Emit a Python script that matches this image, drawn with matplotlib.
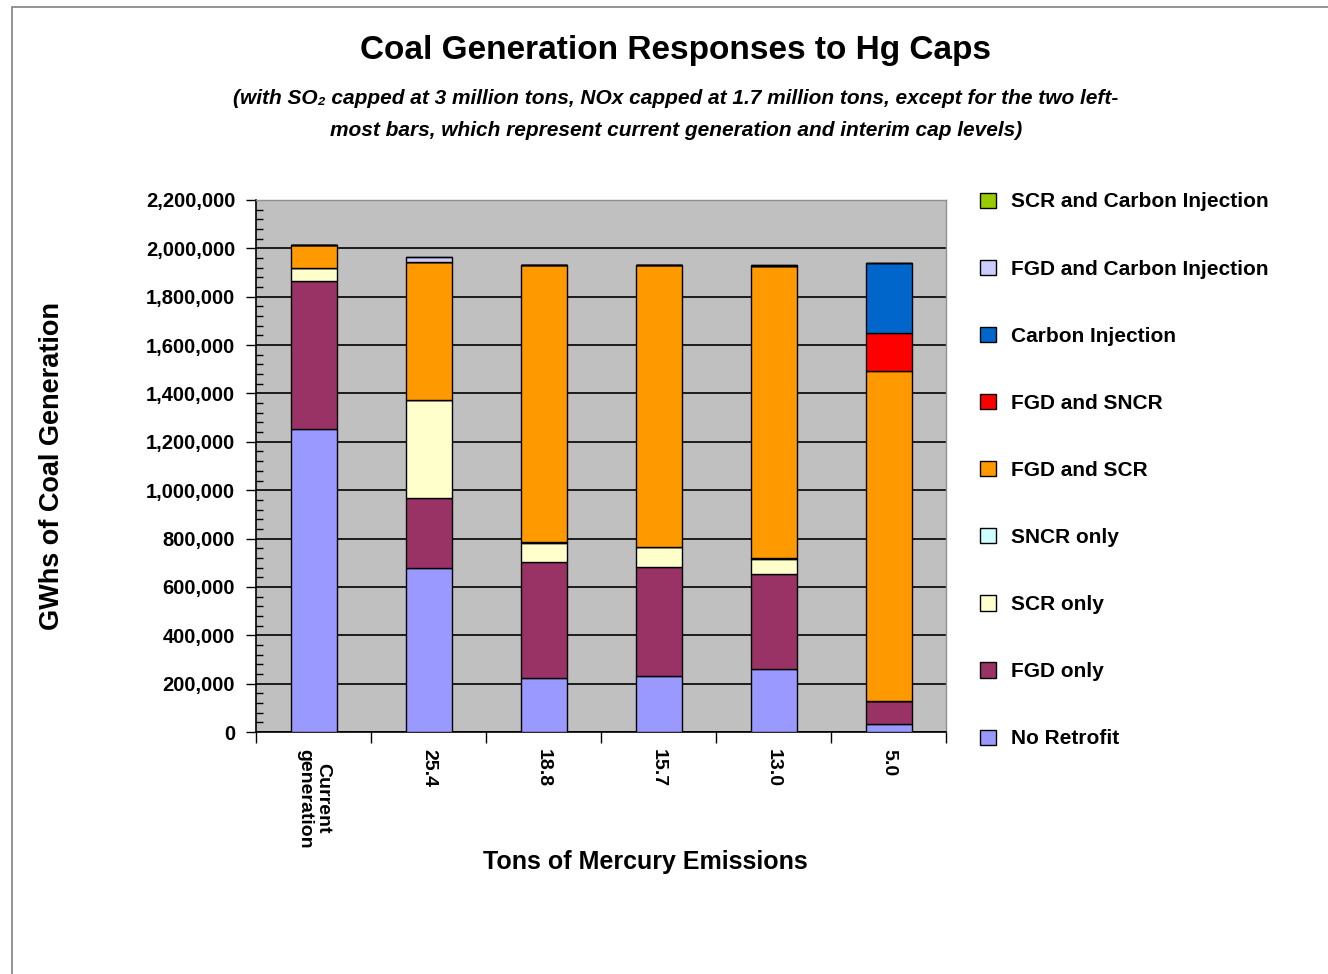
import matplotlib
matplotlib.use("Agg")
import matplotlib.pyplot as plt
from matplotlib.patches import Patch, Rectangle
from matplotlib.ticker import FuncFormatter, MultipleLocator
import numpy as np

plt.rcParams['font.family'] = ['Liberation Sans', 'DejaVu Sans']
plt.rcParams['font.weight'] = 'bold'

categories = ['Current\ngeneration', '25.4', '18.8', '15.7', '13.0', '5.0']

# GWh per retrofit type, bottom to top
no_retrofit = [1251000, 680000, 225000, 231000, 260000, 34000]
fgd_only = [613000, 287000, 480000, 450000, 395000, 93000]
scr_only = [55000, 405000, 78000, 85000, 59000, 0]
sncr_only = [0, 0, 4000, 0, 5000, 0]
fgd_scr = [96000, 572000, 1144000, 1165000, 1207000, 1366000]
fgd_sncr = [0, 0, 0, 0, 0, 158000]
carbon_inj = [0, 0, 0, 0, 0, 287000]
fgd_carbon = [0, 19000, 0, 0, 4000, 0]
scr_carbon = [0, 0, 0, 0, 0, 0]

series = [
    ('No Retrofit', no_retrofit, '#9999FF'),
    ('FGD only', fgd_only, '#993366'),
    ('SCR only', scr_only, '#FFFFCC'),
    ('SNCR only', sncr_only, '#CCFFFF'),
    ('FGD and SCR', fgd_scr, '#FF9900'),
    ('FGD and SNCR', fgd_sncr, '#FF0000'),
    ('Carbon Injection', carbon_inj, '#0066CC'),
    ('FGD and Carbon Injection', fgd_carbon, '#CCCCFF'),
    ('SCR and Carbon Injection', scr_carbon, '#99CC00'),
]

W, H = 1328, 974
fig = plt.figure(figsize=(W / 100, H / 100), dpi=100)
fig.patch.set_facecolor('white')

# chart area border (right/bottom run off the image)
fig.add_artist(Rectangle((12 / W, -0.05), 1.2, 1 - 7 / H + 0.05, transform=fig.transFigure,
                         fill=False, edgecolor='#808080', linewidth=1.2))

ax = fig.add_axes([256 / W, 1 - 732 / H, (946 - 256) / W, (732 - 200) / H])
ax.set_facecolor('#C0C0C0')

x = np.arange(len(categories))
bottom = np.zeros(len(categories))
handles = []
for name, vals, col in series:
    vals = np.array(vals, dtype=float)
    ax.bar(x, vals, 0.4, bottom=bottom, color=col, edgecolor='black', linewidth=1.0, zorder=3)
    bottom += vals
    handles.append(Patch(facecolor=col, edgecolor='black', linewidth=1.0, label=name))

ax.set_xlim(-0.5, len(categories) - 0.5)
ax.set_ylim(0, 2200000)
ax.yaxis.set_major_locator(MultipleLocator(200000))
ax.yaxis.set_minor_locator(MultipleLocator(40000))
ax.yaxis.set_major_formatter(FuncFormatter(lambda v, p: f'{int(v):,}'))
ax.grid(axis='y', which='major', color='black', linewidth=1.2, zorder=1)
ax.set_axisbelow(True)
ax.tick_params(axis='y', which='major', direction='out', length=7, width=1, labelsize=14.5, pad=8)
ax.tick_params(axis='y', which='minor', direction='in', length=5, width=1)

ax.set_xticks(np.arange(-0.5, len(categories), 1.0))
ax.set_xticklabels([])
ax.set_xticks(x, minor=True)
ax.set_xticklabels(categories, minor=True, rotation=270, fontsize=14,
                   ha='center', va='top', linespacing=1.1)
ax.tick_params(axis='x', which='major', direction='out', length=8, width=1)
ax.tick_params(axis='x', which='minor', length=0, pad=12)

for s in ['left', 'bottom']:
    ax.spines[s].set_color('black')
    ax.spines[s].set_linewidth(1.2)
for s in ['top', 'right']:
    ax.spines[s].set_color('#909090')
    ax.spines[s].set_linewidth(1.0)

fig.text(676 / W, 1 - 50 / H, 'Coal Generation Responses to Hg Caps',
         ha='center', va='center', fontsize=24, fontweight='bold')
fig.text(676 / W, 1 - 98 / H,
         '(with SO\u2082 capped at 3 million tons, NOx capped at 1.7 million tons, except for the two left-',
         ha='center', va='center', fontsize=15, fontweight='bold', style='italic')
fig.text(676 / W, 1 - 131 / H,
         'most bars, which represent current generation and interim cap levels)',
         ha='center', va='center', fontsize=15, fontweight='bold', style='italic')

fig.text(52 / W, 1 - 466 / H, 'GWhs of Coal Generation', rotation=90,
         ha='center', va='center', fontsize=19.5, fontweight='bold')
fig.text(645 / W, 1 - 862 / H, 'Tons of Mercury Emissions',
         ha='center', va='center', fontsize=18, fontweight='bold')

leg = fig.legend(handles=handles[::-1], loc='upper left',
                 bbox_to_anchor=(970 / W, 1 - 182 / H), frameon=False,
                 fontsize=15, handlelength=0.75, handleheight=0.75,
                 handletextpad=0.7, labelspacing=2.31, borderpad=0)

fig.savefig('out.png', dpi=100)
